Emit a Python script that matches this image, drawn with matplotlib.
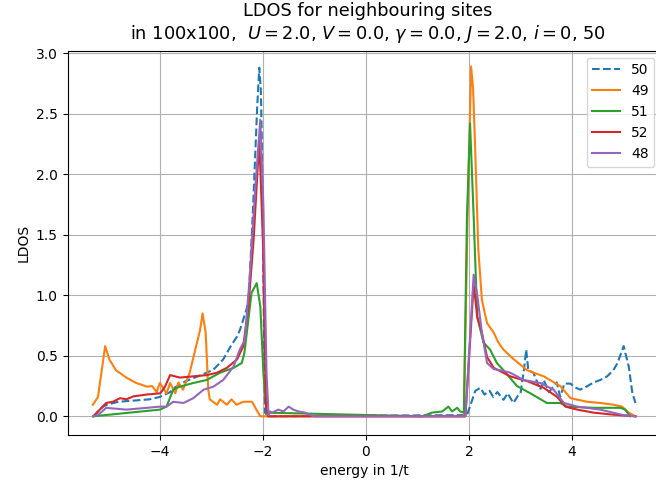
import numpy as np
import matplotlib
matplotlib.use("Agg")
import matplotlib.pyplot as plt

# LDOS curves, (energy, ldos) pairs per site
e50 = [-5.29, -5.1, -5.0, -4.8, -4.5, -4.2, -4.0, -3.8, -3.7, -3.5, -3.2, -2.96, -2.77,
       -2.63, -2.5, -2.44, -2.38, -2.32, -2.28, -2.25, -2.19, -2.11, -2.07, -2.04, -2.02,
       -1.96, -1.9, 1.96, 2.05, 2.12, 2.22, 2.3, 2.4, 2.47, 2.55, 2.67, 2.75, 2.86, 2.95,
       3.0, 3.07, 3.11, 3.15, 3.25, 3.38, 3.45, 3.55, 3.64, 3.7, 3.77, 3.85, 3.97, 4.05,
       4.16, 4.3, 4.42, 4.55, 4.68, 4.8, 4.88, 4.95, 5.0, 5.1, 5.17, 5.23]
l50 = [0.0, 0.08, 0.1, 0.12, 0.13, 0.14, 0.16, 0.2, 0.24, 0.29, 0.34, 0.385, 0.47,
       0.575, 0.66, 0.72, 0.8, 0.88, 0.96, 1.19, 1.73, 2.56, 2.88, 2.7, 2.28,
       0.03, 0.0, 0.01, 0.12, 0.21, 0.235, 0.18, 0.21, 0.16, 0.2, 0.136, 0.19, 0.11, 0.17,
       0.19, 0.4, 0.55, 0.38, 0.36, 0.22, 0.3, 0.2, 0.245, 0.28, 0.16, 0.27, 0.27, 0.24,
       0.22, 0.25, 0.28, 0.3, 0.33, 0.38, 0.44, 0.52, 0.58, 0.41, 0.19, 0.11]

e49 = [-5.3, -5.2, -5.12, -5.06, -4.98, -4.85, -4.65, -4.46, -4.35, -4.25, -4.15, -4.06,
       -4.0, -3.87, -3.8, -3.7, -3.64, -3.55, -3.42, -3.33, -3.22, -3.17, -3.11, -3.06,
       -3.03, -2.89, -2.83, -2.7, -2.61, -2.51, -2.38, -2.21, -2.12, -2.05, 1.9, 1.97,
       2.04, 2.08, 2.12, 2.18, 2.25, 2.35, 2.48, 2.57, 2.67, 2.87, 3.13, 3.45, 3.77,
       3.97, 4.29, 4.55, 4.81, 4.97, 5.1, 5.23]
l49 = [0.095, 0.16, 0.4, 0.58, 0.47, 0.38, 0.32, 0.275, 0.26, 0.245, 0.25, 0.2,
       0.275, 0.19, 0.275, 0.19, 0.28, 0.22, 0.36, 0.52, 0.71, 0.85, 0.69, 0.22,
       0.14, 0.095, 0.14, 0.095, 0.14, 0.095, 0.12, 0.12, 0.05, 0.0, 0.0, 1.6,
       2.89, 2.7, 2.2, 1.38, 0.96, 0.77, 0.69, 0.61, 0.55, 0.47, 0.38, 0.33, 0.25,
       0.15, 0.12, 0.11, 0.095, 0.08, 0.03, 0.0]

e51 = [-5.29, -4.0, -3.87, -3.74, -3.61, -3.35, -3.09, -2.83, -2.57, -2.41, -2.36, -2.29,
       -2.22, -2.12, -2.05, -1.99, -1.93, 1.09, 1.28, 1.48, 1.6, 1.67, 1.77, 1.83,
       1.9, 1.96, 2.02, 2.09, 2.16, 2.28, 2.41, 2.54, 2.67, 2.93, 3.19, 3.51, 3.77,
       3.9, 4.42, 4.94, 5.03, 5.13]
l51 = [0.0, 0.055, 0.08, 0.22, 0.245, 0.275, 0.3, 0.36, 0.4, 0.44, 0.52, 0.77,
       1.02, 1.1, 0.91, 0.36, 0.03, 0.0, 0.03, 0.04, 0.08, 0.04, 0.07, 0.04,
       0.03, 1.65, 2.42, 1.65, 0.82, 0.61, 0.55, 0.44, 0.38, 0.25, 0.19, 0.11, 0.11,
       0.08, 0.07, 0.07, 0.055, 0.0]

e52 = [-5.29, -5.04, -4.91, -4.77, -4.65, -4.51, -4.25, -3.99, -3.9, -3.8, -3.61, -3.35,
       -3.09, -2.89, -2.7, -2.5, -2.38, -2.28, -2.18, -2.07, -2.0, -1.94, -1.9, 1.93,
       2.09, 2.16, 2.25, 2.35, 2.48, 2.8, 3.13, 3.45, 3.71, 3.87, 4.1, 4.42, 4.81, 5.23]
l52 = [0.0, 0.11, 0.12, 0.15, 0.14, 0.165, 0.18, 0.19, 0.245, 0.34, 0.32, 0.33,
       0.34, 0.36, 0.4, 0.47, 0.58, 0.91, 1.46, 2.28, 1.46, 0.08, 0.0, 0.0,
       1.09, 0.82, 0.69, 0.49, 0.4, 0.33, 0.29, 0.235, 0.16, 0.08, 0.055, 0.03, 0.013, 0.0]

e48 = [-5.29, -5.2, -5.04, -4.65, -4.25, -3.99, -3.87, -3.74, -3.54, -3.35, -3.15, -2.96,
       -2.77, -2.57, -2.45, -2.35, -2.25, -2.15, -2.05, -1.99, -1.93, -1.89, -1.86,
       -1.82, -1.7, -1.6, -1.5, -1.41, -1.31, -1.18, -1.08, -1.0, 1.93, 2.09, 2.16,
       2.25, 2.35, 2.48, 2.61, 2.8, 3.06, 3.38, 3.64, 3.84, 4.1, 4.55, 4.99, 5.23]
l48 = [0.0, 0.01, 0.07, 0.055, 0.07, 0.08, 0.08, 0.12, 0.11, 0.15, 0.22, 0.245,
       0.3, 0.41, 0.55, 0.63, 1.18, 1.87, 2.45, 1.73, 0.36, 0.01, 0.04,
       0.03, 0.055, 0.04, 0.08, 0.055, 0.04, 0.03, 0.01, 0.0, 0.0, 1.17, 1.0,
       0.69, 0.44, 0.39, 0.38, 0.36, 0.3, 0.275, 0.22, 0.11, 0.08, 0.055, 0.01, 0.0]

fig = plt.figure(figsize=(6.56, 4.88), dpi=100)
ax = fig.add_axes([0.103, 0.109, 0.905, 0.787])

ax.plot(e50, l50, '--', label='50')
ax.plot(e49, l49, label='49')
ax.plot(e51, l51, label='51')
ax.plot(e52, l52, label='52')
ax.plot(e48, l48, label='48')

ax.set_xlim(-5.79, 5.73)
ax.set_ylim(-0.153, 3.02)
ax.grid(True)
ax.legend(loc='upper right')
ax.set_xlabel('energy in 1/t')
ax.set_ylabel('LDOS')
ax.set_title('LDOS for neighbouring sites\nin 100x100,  $U=2.0$, $V=0.0$, $\\gamma=0.0$, $J=2.0$, $i=0$, 50',
             fontsize=12.8, pad=8.5, x=0.505)

fig.savefig('out.png', dpi=100)
